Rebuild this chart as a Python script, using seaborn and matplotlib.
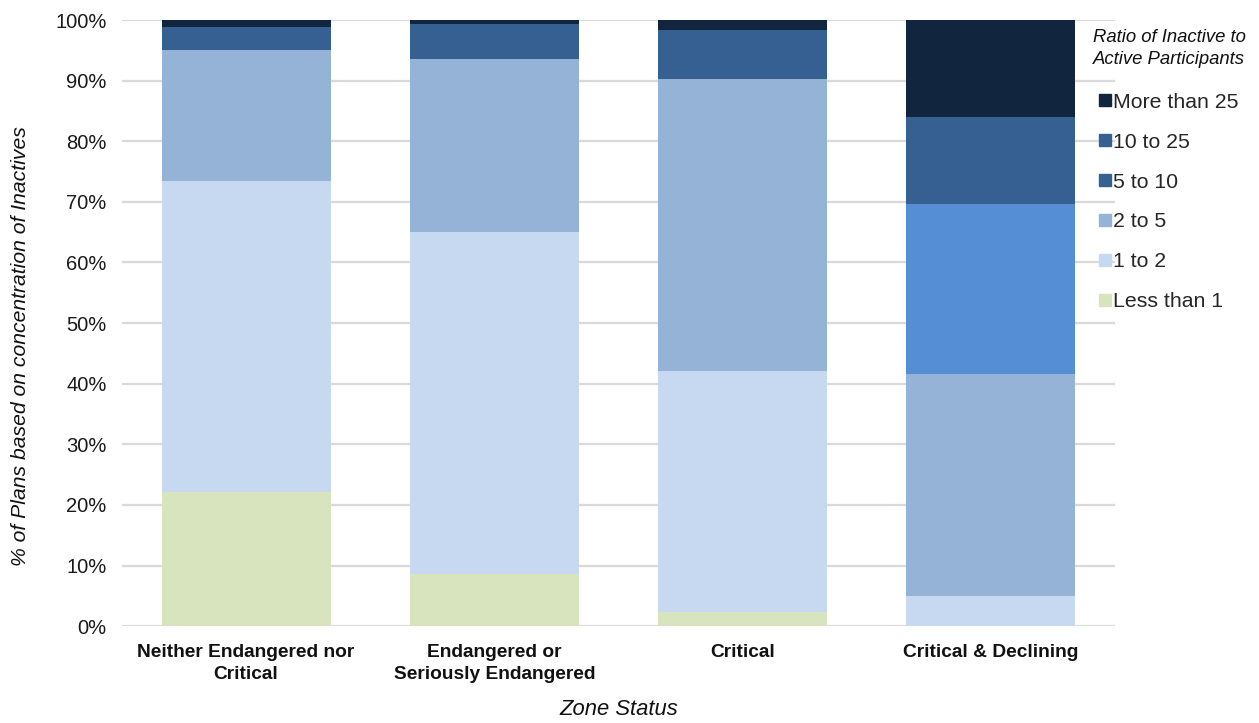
import matplotlib
matplotlib.use("Agg")
import matplotlib.pyplot as plt
from matplotlib.lines import Line2D
import numpy as np
import pandas as pd
import seaborn as sns

# Zone status categories
zones = ["Neither Endangered nor\nCritical",
         "Endangered or\nSeriously Endangered",
         "Critical",
         "Critical & Declining"]

# Share of plans (%) in each inactive-to-active ratio band, bottom to top
less_than_1 = [22.1, 8.6, 2.3, 0.0]
one_to_2 = [51.3, 56.4, 39.8, 5.0]
two_to_5 = [21.6, 28.6, 48.2, 36.6]
five_to_10 = [2.8, 1.4, 5.4, 28.0]
ten_to_25 = [1.0, 4.3, 2.6, 14.4]
more_than_25 = [1.2, 0.7, 1.7, 16.0]

band_names = ["Less than 1", "1 to 2", "2 to 5", "5 to 10", "10 to 25", "More than 25"]
band_values = [less_than_1, one_to_2, two_to_5, five_to_10, ten_to_25, more_than_25]
band_colors = ["#D7E4BD", "#C6D9F1", "#95B3D7", "#376092", "#376092", "#12253F"]
declining_5_to_10 = "#558ED5"

sns.set_theme(style="white")
plt.rcParams["font.family"] = ["Liberation Sans", "DejaVu Sans"]

fig = plt.figure(figsize=(12.59, 7.23), dpi=100)
ax = fig.add_axes([0.0969, 0.134, 0.7887, 0.8383])

df = pd.DataFrame({"zone": zones})
cum = np.cumsum(np.array(band_values), axis=0)

# Stacked bars: draw cumulative totals from the top band down
for i in range(len(band_names) - 1, -1, -1):
    df["value"] = cum[i]
    pal = {z: band_colors[i] for z in zones}
    if band_names[i] == "5 to 10":
        pal[zones[-1]] = declining_5_to_10
    sns.barplot(data=df, x="zone", y="value", hue="zone", palette=pal,
                order=zones, hue_order=zones, dodge=False, legend=False,
                width=0.68, saturation=1.0, linewidth=0, ax=ax, zorder=3)

ax.set_xlim(-0.5, 3.5)
ax.set_ylim(0, 100)
ax.set_yticks(np.arange(0, 101, 10))
ax.set_yticklabels([f"{v}%" for v in range(0, 101, 10)], fontsize=14.5, color="#1a1a1a")
ax.set_xticks(range(len(zones)))
ax.set_xticklabels(zones, fontsize=13.8, fontweight="bold", color="#111111",
                   linespacing=1.35)
ax.tick_params(axis="y", length=0, pad=11)
ax.tick_params(axis="x", length=0, pad=13)
ax.yaxis.grid(True, color="#D9D9D9", linewidth=1.6, zorder=0)
ax.set_axisbelow(True)
for s in ax.spines.values():
    s.set_visible(False)

ax.set_xlabel("Zone Status", fontsize=15.8, fontstyle="italic", labelpad=12, color="#111111")
ax.set_ylabel("% of Plans based on concentration of Inactives", fontsize=15.2,
              fontstyle="italic", color="#111111")
ax.yaxis.set_label_coords(-0.093, 0.462)

# Legend title
fig.text(1093 / 1259, 1 - 37 / 723, "Ratio of Inactive to", fontsize=13.3,
         fontstyle="italic", ha="left", va="center", color="#111111")
fig.text(1093 / 1259, 1 - 59 / 723, "Active Participants", fontsize=13.3,
         fontstyle="italic", ha="left", va="center", color="#111111")

# Legend listed top band first
handles = [Line2D([0], [0], marker="s", linestyle="none", markersize=8,
                  markerfacecolor=band_colors[i], markeredgecolor=band_colors[i])
           for i in range(len(band_names) - 1, -1, -1)]
labels = [band_names[i] for i in range(len(band_names) - 1, -1, -1)]
leg = fig.legend(handles, labels, loc="upper left",
                 bbox_to_anchor=(1085 / 1259, 1 - 78 / 723),
                 frameon=False, fontsize=15.3, handlelength=0.52, handletextpad=0.1,
                 labelspacing=0.98, borderpad=0.2)

fig.savefig("out.png", dpi=100)
